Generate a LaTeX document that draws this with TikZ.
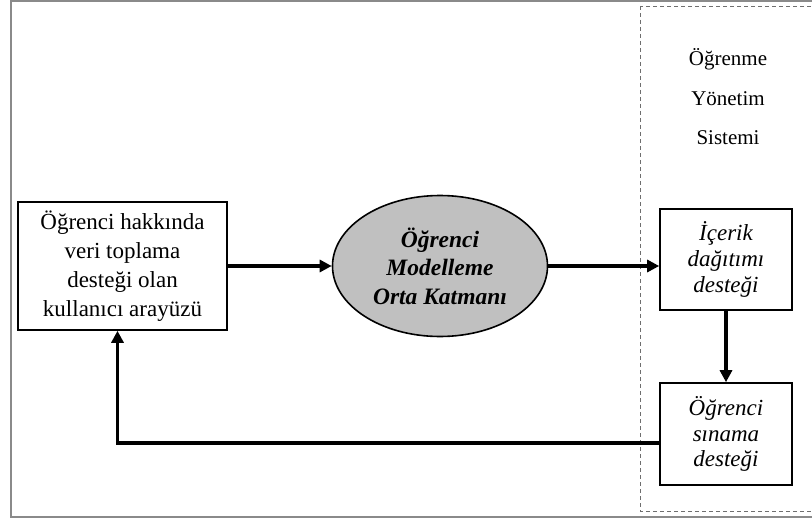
\documentclass[tikz,border=0pt]{standalone}
\usepackage{fontspec}
\setmainfont{Liberation Serif}
\usetikzlibrary{shapes,arrows.meta,calc}

\begin{document}
\begin{tikzpicture}
  [
    x=1pt, y=-1pt,
    block/.style =
      {draw, line width=1.6pt, rectangle, align=center, inner sep=2pt,
       font=\fontsize{23}{29}\selectfont},
    core/.style =
      {draw, line width=1.6pt, ellipse, fill=coregray, align=center,
       minimum width=215pt, minimum height=141pt,
       font=\fontsize{23.5}{28.5}\selectfont\bfseries\itshape},
    flow/.style =
      {line width=3.8pt, -{Triangle[length=12pt, width=12pt]}}
  ]
\definecolor{coregray}{HTML}{C0C0C0}
\definecolor{framegray}{HTML}{8A8A8A}

\useasboundingbox (0,0) rectangle (812,519);
\clip (0,0) rectangle (812,519);

% frame and system area
\draw [framegray, line width=1.8pt] (11,1) rectangle (830,517);
\draw [framegray!80!black, line width=0.9pt, dash pattern=on 4pt off 3pt] (640,6) rectangle (840,511);

\node[block, minimum width=209pt, minimum height=128pt] (ui) at (122.5,266)
  {Öğrenci hakkında\\veri toplama\\desteği olan\\kullanıcı arayüzü};
\node[core] (som) at (440,266) {Öğrenci\\Modelleme\\Orta Katmanı};

\node[align=center, font=\fontsize{21}{39.5}\selectfont] (lms) at (728,97)
  {Öğrenme\\Yönetim\\Sistemi};

\node[block, font=\fontsize{23}{26}\selectfont\itshape,
      minimum width=132pt, minimum height=101pt] (cds) at (726,259.5)
  {İçerik\\dağıtımı\\desteği};
\node[block, font=\fontsize{23}{25.5}\selectfont\itshape,
      minimum width=132pt, minimum height=102pt] (ots) at (726,434)
  {Öğrenci\\sınama\\desteği};

\coordinate (back) at ($(ots.west)+(0,9)$);

\draw [flow] (ui) -- (som);
\draw [flow] (som.east) -- (cds.west |- som.east);
\draw [flow] (cds) -- (ots);
\draw [flow] (back) -| ($(ui.south)+(-5,0)$);
\end{tikzpicture}
\end{document}
